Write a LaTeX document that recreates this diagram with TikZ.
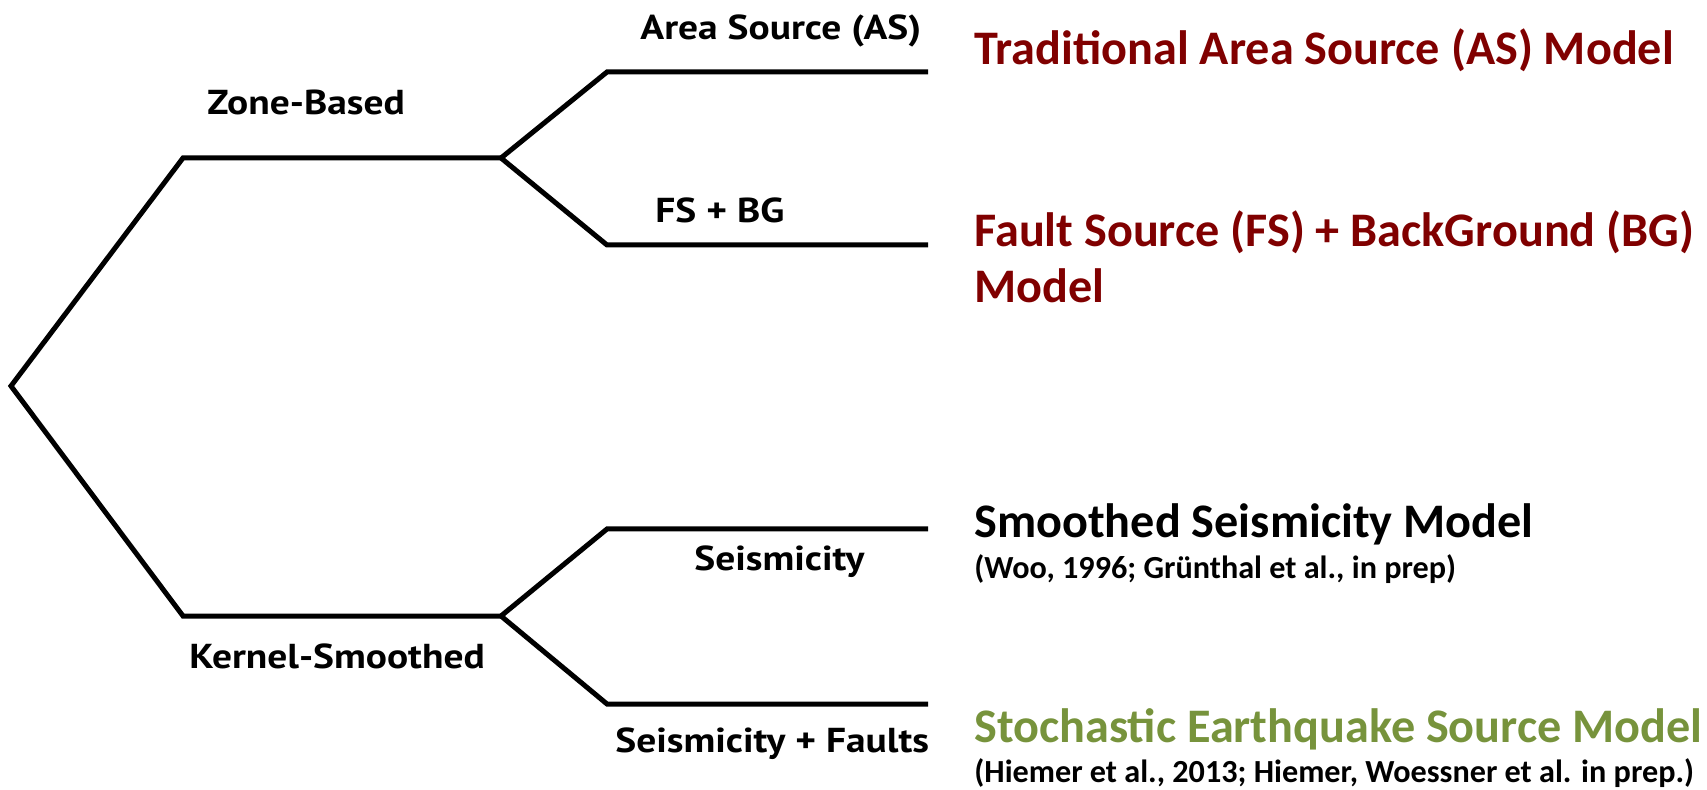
\documentclass[tikz,border=0pt]{standalone}
\usepackage{fontspec}
\setmainfont{Carlito}
\newfontfamily\branchfont[FakeStretch=1.14]{PT Sans}
\definecolor{darkred}{HTML}{800000}
\definecolor{olive}{HTML}{77933C}
\begin{document}
\begin{tikzpicture}[x=0.5pt,y=-0.5pt,
  branch/.style={line width=2.5pt, line join=miter, line cap=butt},
  lbl/.style={font=\branchfont\bfseries\fontsize{17.3}{20}\selectfont, anchor=base west, inner sep=0},
  ttl/.style={font=\bfseries\fontsize{24.1}{28}\selectfont, anchor=base west, inner sep=0},
  cite/.style={font=\bfseries\fontsize{16.1}{19}\selectfont, anchor=base west, inner sep=0}]
\useasboundingbox (0,0) rectangle (1707,790);
\coordinate (root) at (11,386);
\coordinate (zb) at (183,158); \coordinate (zbj) at (501,158);
\coordinate (ks) at (183,616); \coordinate (ksj) at (501,616);
\coordinate (as0) at (607,72); \coordinate (as1) at (928,72);
\coordinate (fs0) at (607,245); \coordinate (fs1) at (928,245);
\coordinate (se0) at (607,529); \coordinate (se1) at (928,529);
\coordinate (sf0) at (607,704); \coordinate (sf1) at (928,704);
\draw[branch] (as1) -- (as0) -- (zbj) -- (fs0) -- (fs1);
\draw[branch] (zbj) -- (zb) -- (root) -- (ks) -- (ksj);
\draw[branch] (se1) -- (se0) -- (ksj) -- (sf0) -- (sf1);
\node[lbl] (lzb) at (207,115) {Zone-Based};
\node[lbl] (lks) at (189,668) {Kernel-Smoothed};
\node[lbl] (las) at (640,40) {Area Source (AS)};
\node[lbl] (lfs) at (655,223) {FS + BG};
\node[lbl] (lse) at (694,570) {Seismicity};
\node[lbl] (lsf) at (615,752) {Seismicity + Faults};
\node[ttl, text=darkred] (tas) at (974,65) {Traditional Area Source (AS) Model};
\node[ttl, text=darkred] (tfs) at (974,247) {Fault Source (FS) + BackGround (BG)};
\node[ttl, text=darkred] (tfs2) at (974,303) {Model};
\node[ttl] (tss) at (974,538) {Smoothed Seismicity Model};
\node[cite] (css) at (974,578) {(Woo, 1996; Grünthal et al., in prep)};
\node[ttl, text=olive] (tst) at (974,742) {Stochastic Earthquake Source Model};
\node[cite] (cst) at (974,782) {(Hiemer et al., 2013; Hiemer, Woessner et al. in prep.)};
\end{tikzpicture}
\end{document}
